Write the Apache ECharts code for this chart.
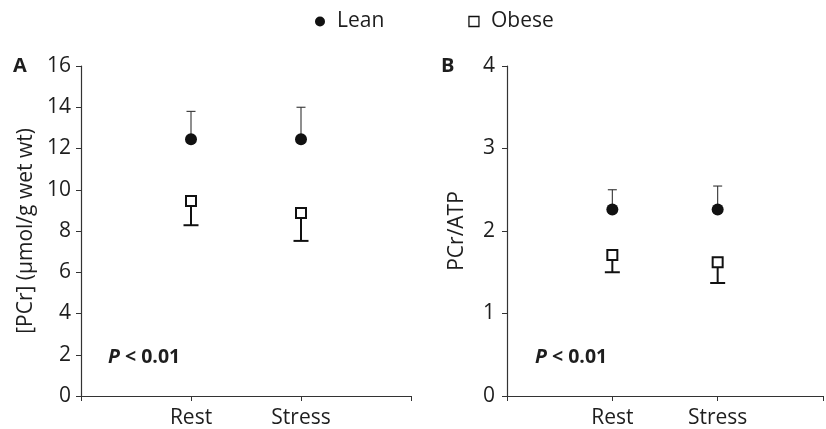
<!DOCTYPE html>
<html><head><meta charset="utf-8">
<script src="https://cdn.jsdelivr.net/npm/echarts@6/dist/echarts.min.js"></script>
<style>html,body{margin:0;padding:0;background:#fff}#c{width:826px;height:429px}</style>
</head><body><div id="c"></div>
<script>
const categories = ['Rest', 'Stress'];
const leanPCr = [12.45, 12.45];
const leanPCrUpper = [13.8, 14.0];
const obesePCr = [9.45, 8.87];
const obesePCrLower = [8.28, 7.52];
const leanRatio = [2.26, 2.26];
const leanRatioUpper = [2.50, 2.545];
const obeseRatio = [1.71, 1.62];
const obeseRatioLower = [1.50, 1.37];
const yTicksA = [0, 16, 2];
const yTicksB = [0, 4, 1];

const FONT = 'Open Sans';
const TXT = '#1e1e1e';
const FS = 21;
const xCats = [''].concat(categories, ['']);

function pts(vals) { return vals.map((v, i) => [categories[i], v]); }
function errData(vals, ends) { return vals.map((v, i) => [categories[i], v, ends[i]]); }

function errSeries(idx, data, cap, lw, color) {
  return {
    type: 'custom', xAxisIndex: idx, yAxisIndex: idx, z: 1, silent: true,
    data: data,
    renderItem: function (params, api) {
      const p0 = api.coord([api.value(0), api.value(1)]);
      const p1 = api.coord([api.value(0), api.value(2)]);
      return {
        type: 'group', children: [
          { type: 'line', shape: { x1: p0[0], y1: p0[1], x2: p1[0], y2: p1[1] }, style: { stroke: color, lineWidth: lw } },
          { type: 'line', shape: { x1: p1[0] - cap / 2, y1: p1[1], x2: p1[0] + cap / 2, y2: p1[1] }, style: { stroke: color, lineWidth: lw } }
        ]
      };
    }
  };
}

function xAx(idx) {
  return {
    type: 'category', gridIndex: idx, data: xCats, boundaryGap: false,
    axisLine: { lineStyle: { color: '#333', width: 1.2 } },
    axisTick: { show: true, length: 5, lineStyle: { color: '#333' }, interval: 0 },
    axisLabel: { color: TXT, fontFamily: FONT, fontSize: FS, margin: 12, interval: 0 },
    splitLine: { show: false }
  };
}
function yAx(idx, t, name, gap, margin) {
  return {
    type: 'value', gridIndex: idx, min: t[0], max: t[1], interval: t[2],
    name: name, nameLocation: 'middle', nameGap: gap,
    nameTextStyle: { color: TXT, fontFamily: FONT, fontSize: FS },
    axisLine: { show: true, lineStyle: { color: '#333', width: 1.2 } },
    axisTick: { show: true, length: 5, lineStyle: { color: '#333' } },
    axisLabel: { color: TXT, fontFamily: FONT, fontSize: FS, margin: margin },
    splitLine: { show: false }
  };
}
const pText = {
  text: '{i|P} < 0.01',
  rich: { i: { fontStyle: 'italic', fontWeight: 'bold', fontSize: 19.5, fontFamily: FONT, fill: TXT } },
  font: 'bold 19.5px "' + FONT + '"', fill: TXT
};

const chart = echarts.init(document.getElementById('c'));
chart.setOption({
  animation: false,
  backgroundColor: '#fff',
  textStyle: { fontFamily: FONT },
  legend: {
    top: 6, left: 310, itemGap: 84, itemWidth: 10, itemHeight: 10,
    textStyle: { color: TXT, fontFamily: FONT, fontSize: FS, padding: [0, 0, 0, 7] },
    data: [
      { name: 'Lean', icon: 'circle', itemStyle: { color: '#111', borderWidth: 0, opacity: 1 } },
      { name: 'Obese', icon: 'rect', itemStyle: { color: '#fff', borderColor: '#111', borderWidth: 1.3, opacity: 1 } }
    ]
  },
  grid: [
    { left: 81, right: 415, top: 66, bottom: 33 },
    { left: 507, right: -11, top: 66, bottom: 33 }
  ],
  xAxis: [xAx(0), xAx(1)],
  yAxis: [yAx(0, yTicksA, '[PCr] (μmol/g wet wt)', 44, 10), yAx(1, yTicksB, 'PCr/ATP', 39, 12)],
  graphic: [
    { type: 'text', left: 13, top: 56, style: { text: 'A', font: 'bold 20px "' + FONT + '"', fill: TXT } },
    { type: 'text', left: 441, top: 56, style: { text: 'B', font: 'bold 20px "' + FONT + '"', fill: TXT } },
    { type: 'text', left: 108, top: 347, style: pText },
    { type: 'text', left: 535, top: 347, style: pText }
  ],
  series: [
    errSeries(0, errData(leanPCr, leanPCrUpper), 9, 1.1, '#333'),
    errSeries(0, errData(obesePCr, obesePCrLower), 15, 2, '#111'),
    errSeries(1, errData(leanRatio, leanRatioUpper), 9, 1.1, '#333'),
    errSeries(1, errData(obeseRatio, obeseRatioLower), 15, 2, '#111'),
    { name: 'Lean', type: 'scatter', xAxisIndex: 0, yAxisIndex: 0, symbol: 'circle', symbolSize: 12, z: 3, itemStyle: { color: '#111', opacity: 1 }, data: pts(leanPCr) },
    { name: 'Obese', type: 'scatter', xAxisIndex: 0, yAxisIndex: 0, symbol: 'rect', symbolSize: 10, z: 3, itemStyle: { color: '#fff', borderColor: '#111', borderWidth: 2, opacity: 1 }, data: pts(obesePCr) },
    { name: 'Lean', type: 'scatter', xAxisIndex: 1, yAxisIndex: 1, symbol: 'circle', symbolSize: 12, z: 3, itemStyle: { color: '#111', opacity: 1 }, data: pts(leanRatio) },
    { name: 'Obese', type: 'scatter', xAxisIndex: 1, yAxisIndex: 1, symbol: 'rect', symbolSize: 10, z: 3, itemStyle: { color: '#fff', borderColor: '#111', borderWidth: 2, opacity: 1 }, data: pts(obeseRatio) }
  ]
});
</script></body></html>
